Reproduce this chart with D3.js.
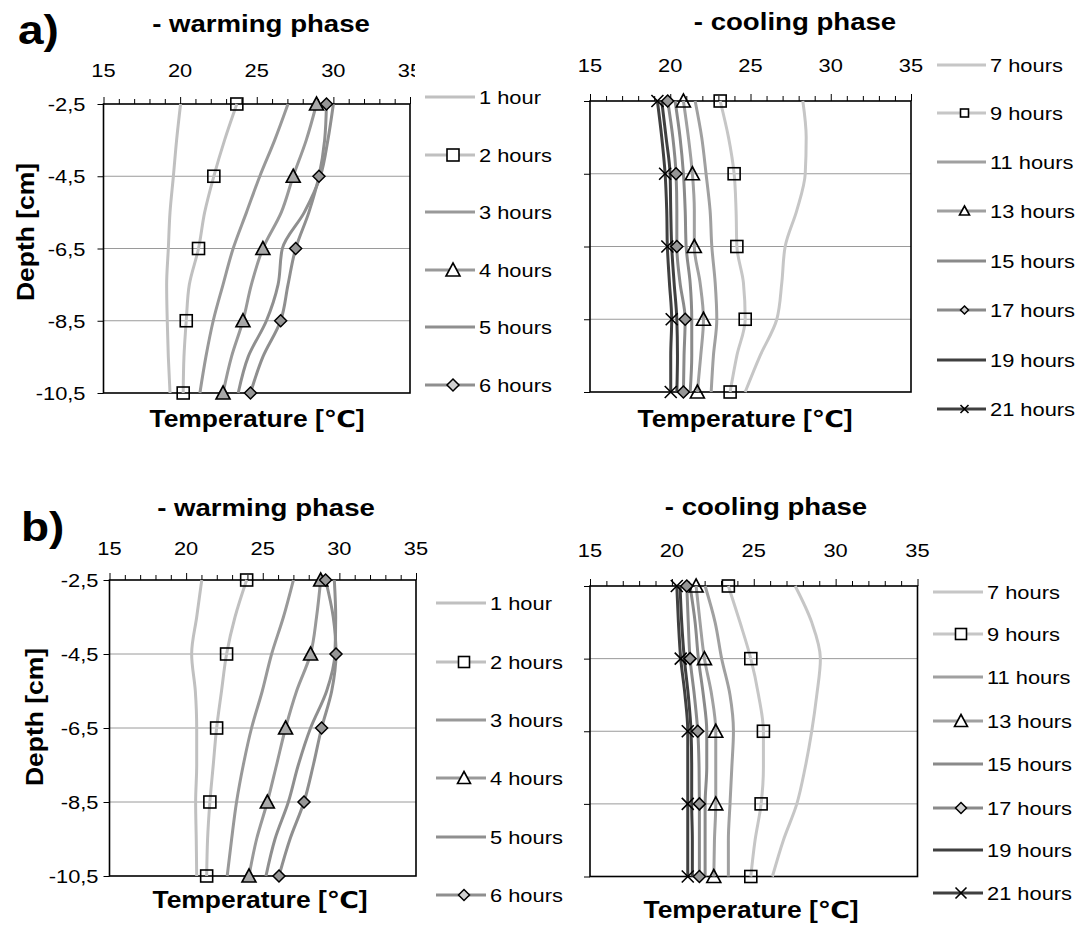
<!DOCTYPE html>
<html>
<head>
<meta charset="utf-8">
<script src="https://cdn.jsdelivr.net/npm/d3@7"></script>
<style>
  body { margin: 0; background: #fff; }
  svg { display: block; font-family: "Liberation Sans", Arial, "DejaVu Sans", sans-serif; }
</style>
</head>
<body>
<svg id="chart" width="1084" height="927"></svg>
<script>
"use strict"

// depths [cm] at which the profiles were measured
const depths = [-2.5, -3.5, -4.5, -5.5, -6.5, -7.5, -8.5, -9.5, -10.5];
const depthTicks = [-2.5, -4.5, -6.5, -8.5, -10.5];
const depthTickLabels = ["-2,5", "-4,5", "-6,5", "-8,5", "-10,5"];
const tempTicks = [15, 20, 25, 30, 35];

const warmNames = ["1 hour", "2 hours", "3 hours", "4 hours", "5 hours", "6 hours"];
const coolNames = ["7 hours", "9 hours", "11 hours", "13 hours", "15 hours", "17 hours", "19 hours", "21 hours"];

// a) temperatures [C], one row per series, one value per depth
const aWarm = [
    [20.03, 19.77, 19.56, 19.34, 19.23, 19.12, 19.16, 19.23, 19.34],
    [23.7, 22.9, 22.2, 21.6, 21.2, 20.6, 20.4, 20.25, 20.2],
    [27.04, 26.17, 25.2, 24.33, 23.46, 22.8, 22.16, 21.68, 21.29],
    [28.9, 28.23, 27.38, 26.6, 25.4, 24.65, 24.1, 23.35, 22.8],
    [30.0, 29.64, 29.15, 28.1, 26.67, 26.39, 25.63, 24.44, 23.79],
    [29.55, 29.43, 29.06, 28.4, 27.54, 27.04, 26.56, 25.4, 24.59]
];
const aCool = [
    [28.26, 28.47, 28.41, 27.89, 27.16, 26.95, 26.64, 25.6, 24.67],
    [23.11, 23.63, 23.98, 24.1, 24.15, 24.56, 24.67, 24.15, 23.73],
    [21.55, 21.96, 22.23, 22.48, 22.59, 22.8, 22.9, 22.69, 22.55],
    [20.82, 21.13, 21.38, 21.5, 21.5, 21.86, 22.07, 21.9, 21.69],
    [20.3, 20.61, 20.82, 20.93, 20.99, 21.24, 21.34, 21.34, 21.24],
    [19.84, 20.16, 20.36, 20.41, 20.41, 20.61, 20.93, 20.86, 20.82],
    [19.47, 19.74, 19.99, 20.03, 20.09, 20.24, 20.41, 20.45, 20.41],
    [19.2, 19.47, 19.68, 19.78, 19.82, 19.95, 20.09, 20.03, 20.03]
];

// b) temperatures [C]
const bWarm = [
    [21.02, 20.69, 20.36, 20.6, 20.69, 20.69, 20.62, 20.66, 20.69],
    [23.95, 23.19, 22.64, 22.31, 21.99, 21.77, 21.55, 21.4, 21.34],
    [27.0, 26.35, 25.58, 24.97, 24.27, 23.73, 23.29, 22.97, 22.68],
    [28.78, 28.51, 28.12, 27.21, 26.49, 25.9, 25.3, 24.6, 24.1],
    [29.67, 29.76, 29.71, 29.17, 28.12, 27.32, 26.67, 25.8, 25.21],
    [29.1, 29.6, 29.78, 29.5, 28.84, 28.3, 27.69, 26.78, 26.06]
];
const bCool = [
    [27.53, 28.54, 29.07, 28.85, 28.54, 28.14, 27.63, 26.81, 26.14],
    [23.45, 24.16, 24.82, 25.29, 25.59, 25.59, 25.45, 25.08, 24.82],
    [22.03, 22.64, 23.04, 23.55, 23.76, 23.66, 23.55, 23.45, 23.45],
    [21.48, 21.72, 21.99, 22.43, 22.68, 22.68, 22.68, 22.6, 22.56],
    [21.11, 21.42, 21.62, 21.92, 22.13, 22.13, 22.03, 22.03, 22.03],
    [20.91, 21.0, 21.11, 21.37, 21.58, 21.66, 21.68, 21.68, 21.68],
    [20.5, 20.6, 20.76, 21.0, 21.17, 21.21, 21.21, 21.25, 21.25],
    [20.3, 20.4, 20.54, 20.8, 20.97, 20.97, 20.97, 20.97, 20.97]
];

// line colours and markers
const warmStyle = [
    { color: "#c0c0c0", marker: null },
    { color: "#c0c0c0", marker: "square" },
    { color: "#999999", marker: null },
    { color: "#999999", marker: "triangle" },
    { color: "#8f8f8f", marker: null },
    { color: "#8f8f8f", marker: "diamond" }
];
const coolStyle = [
    { color: "#c6c6c6", marker: null },
    { color: "#c6c6c6", marker: "square" },
    { color: "#a0a0a0", marker: null },
    { color: "#a0a0a0", marker: "triangle" },
    { color: "#8a8a8a", marker: null },
    { color: "#8a8a8a", marker: "diamond" },
    { color: "#404040", marker: null },
    { color: "#404040", marker: "cross" }
];

const K = 1.15;   // text in the original looks stretched sideways
const svg = d3.select("#chart");

function txt(g, x, y, s, size, opts) {
    opts = opts || {};
    let t = "translate(" + x + "," + y + ")" + (opts.rotate ? " rotate(" + opts.rotate + ")" : "") + " scale(" + K + ",1)";
    return g.append("text")
        .attr("transform", t)
        .attr("text-anchor", opts.anchor || "start")
        .style("font-size", size + "px")
        .style("font-weight", opts.bold ? "bold" : "normal")
        .attr("fill", "#000")
        .text(s);
}

function marker(g, type, x, y, sz, fill) {
    let h = sz / 2;
    if (type === "square") {
        g.append("rect").attr("x", x - h).attr("y", y - h).attr("width", sz).attr("height", sz)
            .attr("fill", fill).attr("stroke", "#000").attr("stroke-width", 1.6);
    } else if (type === "triangle") {
        g.append("path").attr("d", "M" + x + "," + (y - h - 1) + "L" + (x + h + 1) + "," + (y + h) + "L" + (x - h - 1) + "," + (y + h) + "Z")
            .attr("fill", fill).attr("stroke", "#000").attr("stroke-width", 1.6);
    } else if (type === "diamond") {
        g.append("path").attr("d", "M" + x + "," + (y - h) + "L" + (x + h) + "," + y + "L" + x + "," + (y + h) + "L" + (x - h) + "," + y + "Z")
            .attr("fill", fill).attr("stroke", "#000").attr("stroke-width", 1.5);
    } else if (type === "cross") {
        g.append("path").attr("d", "M" + (x - h) + "," + (y - h) + "L" + (x + h) + "," + (y + h) + "M" + (x - h) + "," + (y + h) + "L" + (x + h) + "," + (y - h))
            .attr("stroke", "#000").attr("stroke-width", 1.6);
    }
}

function drawPanel(p) {
    let g = svg.append("g");
    let x = d3.scaleLinear().domain([15, 35]).range([p.x0, p.x1]);
    let y = d3.scaleLinear().domain([-2.5, -10.5]).range([p.y0, p.y1]);

    // horizontal gridlines
    g.append("g").selectAll("line")
        .data(depthTicks.slice(1, -1))
        .enter().append("line")
        .attr("x1", p.x0).attr("x2", p.x1)
        .attr("y1", d => y(d)).attr("y2", d => y(d))
        .attr("stroke", "#9a9a9a").attr("stroke-width", 1);

    // top axis, minor ticks every degree
    let top = g.append("g").attr("transform", "translate(0," + p.y0 + ")")
        .call(d3.axisTop(x).ticks(20).tickSize(5).tickFormat(""));
    top.selectAll(".tick line").attr("stroke", "#000").attr("stroke-width", 1)
        .attr("y2", d => tempTicks.includes(d) ? -7 : -5);
    top.select(".domain").remove();

    // left ticks
    let left = g.append("g").attr("transform", "translate(" + p.x0 + ",0)")
        .call(d3.axisLeft(y).tickValues(depthTicks).tickSize(6).tickFormat(""));
    left.selectAll(".tick line").attr("stroke", "#000").attr("stroke-width", 1);
    left.select(".domain").remove();

    // frame
    g.append("rect").attr("x", p.x0).attr("y", p.y0)
        .attr("width", p.x1 - p.x0).attr("height", p.y1 - p.y0)
        .attr("fill", "none").attr("stroke", "#000").attr("stroke-width", 1.6);

    // tick labels
    tempTicks.forEach(t => txt(g, x(t), p.y0 - p.tickGap + 7, String(t), 19, { anchor: "middle" }));
    if (p.yLabels) {
        depthTicks.forEach((d, i) => txt(g, p.x0 - p.yGap, y(d) + 7, depthTickLabels[i], 19, { anchor: "end" }));
    }

    // profiles
    let line = d3.line()
        .x(d => x(d[0]))
        .y(d => y(d[1]))
        .curve(d3.curveMonotoneY);
    p.data.forEach((vals, i) => {
        let pts = vals.map((v, j) => [v, depths[j]]);
        g.append("path").attr("d", line(pts))
            .attr("fill", "none").attr("stroke", p.style[i].color)
            .attr("stroke-width", 3).attr("stroke-linejoin", "round");
    });
    p.data.forEach((vals, i) => {
        let st = p.style[i];
        if (!st.marker) return;
        vals.forEach((v, j) => {
            if (!depthTicks.includes(depths[j])) return;
            let fill = st.marker === "square" ? "none" : (st.marker === "triangle" ? p.triFill : "#969696");
            marker(g, st.marker, x(v), y(depths[j]), 12, fill);
        });
    });

    // legend
    let lg = g.append("g");
    if (p.legendBg) {
        lg.append("rect").attr("x", p.legendBg[0]).attr("y", p.legendBg[1])
            .attr("width", 130).attr("height", p.legendBg[2] - p.legendBg[1]).attr("fill", "#fff");
    }
    p.names.forEach((n, i) => {
        let ly = p.ly[i];
        lg.append("line").attr("x1", p.lx0).attr("x2", p.lx1).attr("y1", ly).attr("y2", ly)
            .attr("stroke", p.style[i].color).attr("stroke-width", 3);
        if (p.style[i].marker) {
            let mx = (p.lx0 + p.lx1) / 2 + 3;
            marker(lg, p.style[i].marker, mx, ly, p.legMark, p.style[i].marker === "diamond" ? "#d0d0d0" : "#fff");
        }
        txt(lg, p.lx1 + 4, ly + 7, n, 19);
    });

    // titles
    txt(g, p.titleX, p.titleY, p.title, 24, { anchor: "middle", bold: true });
    txt(g, p.xtX, p.xtY, "Temperature [\u2103]", 23, { anchor: "middle", bold: true });
    if (p.ytX) txt(g, p.ytX, p.ytY, "Depth [cm]", 23, { anchor: "middle", bold: true, rotate: -90 });
}

drawPanel({
    x0: 103.5, x1: 410, y0: 104, y1: 393, data: aWarm, style: warmStyle, names: warmNames,
    tickGap: 34, yLabels: true, yGap: 18, triFill: "#a8a8a8",
    lx0: 425, lx1: 475, ly: [97, 155, 212, 270, 327, 385], legMark: 12, legendBg: [415, 55, 415],
    title: "- warming phase", titleX: 261, titleY: 32, xtX: 257, xtY: 427, ytX: 34, ytY: 232
});
drawPanel({
    x0: 590, x1: 911, y0: 101, y1: 392, data: aCool, style: coolStyle, names: coolNames,
    tickGap: 36, yLabels: false, triFill: "none",
    lx0: 937, lx1: 986, ly: [65, 113, 162, 211, 261, 310, 360, 409], legMark: 8,
    title: "- cooling phase", titleX: 795, titleY: 30, xtX: 745, xtY: 427
});
drawPanel({
    x0: 109.5, x1: 416, y0: 580, y1: 876, data: bWarm, style: warmStyle, names: warmNames,
    tickGap: 32, yLabels: true, yGap: 11, triFill: "#a8a8a8",
    lx0: 436, lx1: 486, ly: [603, 662, 720, 778, 837, 895], legMark: 11,
    title: "- warming phase", titleX: 266, titleY: 516, xtX: 260, xtY: 908, ytX: 43, ytY: 717
});
drawPanel({
    x0: 590, x1: 917.5, y0: 586, y1: 876.5, data: bCool, style: coolStyle, names: coolNames,
    tickGap: 36.5, yLabels: false, triFill: "none",
    lx0: 933, lx1: 983, ly: [592, 634, 677, 721, 764, 808, 850, 893], legMark: 11,
    title: "- cooling phase", titleX: 766, titleY: 515, xtX: 751, xtY: 918
});

// panel letters
txt(svg, 18, 44, "a)", 40, { bold: true });
txt(svg, 21, 541, "b)", 40, { bold: true });
</script>
</body>
</html>
